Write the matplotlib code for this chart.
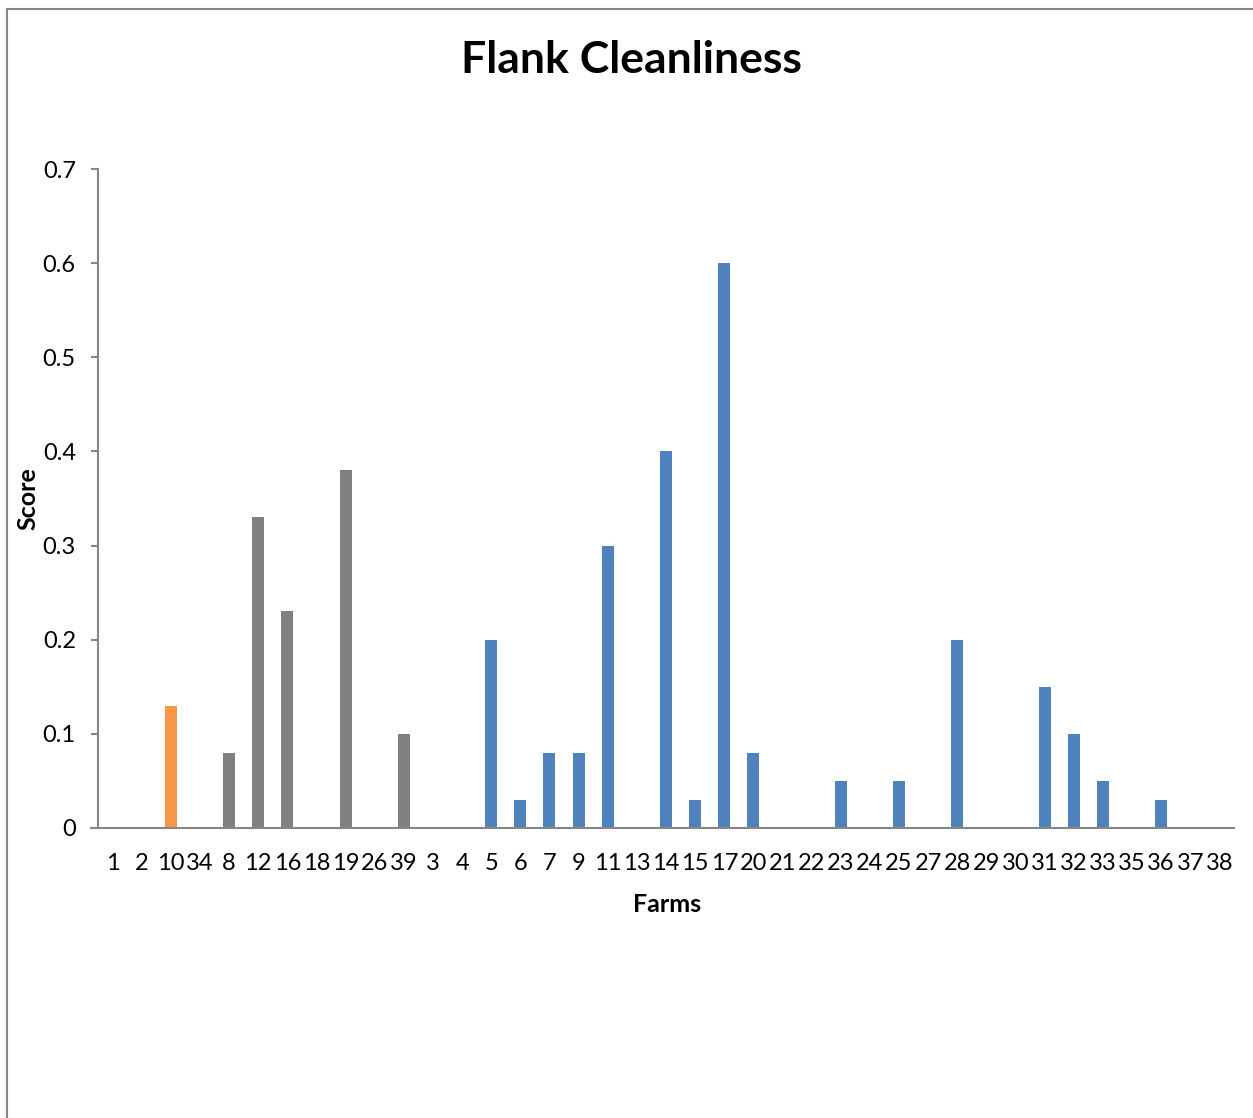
import matplotlib
matplotlib.use('Agg')
import matplotlib.pyplot as plt
from matplotlib.lines import Line2D

# farm labels in the order shown and their scores
farms = ['1', '2', '10', '34', '8', '12', '16', '18', '19', '26', '39',
         '3', '4', '5', '6', '7', '9', '11', '13', '14', '15', '17', '20',
         '21', '22', '23', '24', '25', '27', '28', '29', '30', '31', '32',
         '33', '35', '36', '37', '38']
scores = [0, 0, 0.13, 0, 0.08, 0.33, 0.23, 0, 0.38, 0, 0.10,
          0, 0, 0.20, 0.03, 0.08, 0.08, 0.30, 0, 0.40, 0.03, 0.60, 0.08,
          0, 0, 0.05, 0, 0.05, 0, 0.20, 0, 0, 0.15, 0.10,
          0.05, 0, 0.03, 0, 0]
groups = ['orange'] * 3 + ['gray'] * 8 + ['blue'] * 28

colours = {'orange': '#F79646', 'gray': '#808080', 'blue': '#4F81BD'}

plt.rcParams['font.family'] = ['Lato', 'DejaVu Sans']

fig = plt.figure(figsize=(12.53, 11.18), dpi=100)
ax = fig.add_axes([0.0782, 0.2594, 0.9066, 0.5894])

x = list(range(len(farms)))
ax.bar(x, scores, width=0.41, color=[colours[g] for g in groups])

ax.set_xlim(-0.5, len(farms) - 0.5)
ax.set_ylim(0, 0.7)
ax.set_yticks([0, 0.1, 0.2, 0.3, 0.4, 0.5, 0.6, 0.7])
ax.set_yticklabels(['0', '0.1', '0.2', '0.3', '0.4', '0.5', '0.6', '0.7'])
ax.set_xticks(x)
ax.set_xticklabels(farms)

for s in ['top', 'right']:
    ax.spines[s].set_visible(False)
for s in ['left', 'bottom']:
    ax.spines[s].set_color('#868686')
    ax.spines[s].set_linewidth(1.5)

ax.tick_params(axis='y', length=5, width=1.5, color='#868686', pad=11, labelsize=17)
ax.tick_params(axis='x', length=0, pad=18, labelsize=17)

# x axis line also runs under the zero tick
ax.plot([-0.5 - 0.25, -0.5], [0, 0], color='#868686', lw=1.5, clip_on=False)

fig.text(0.5036, 0.946, 'Flank Cleanliness', ha='center', va='center',
         fontsize=32, fontweight='bold')
fig.text(0.532, 1 - 904 / 1118, 'Farms', ha='center', va='center',
         fontsize=18, fontweight='bold')
fig.text(28 / 1253, 1 - 499 / 1118, 'Score', ha='center', va='center',
         fontsize=18, fontweight='bold', rotation=90)

# chart area border (top and left edges only in the crop)
fig.add_artist(Line2D([6.5 / 1253, 6.5 / 1253], [0, 1 - 8.5 / 1118],
                      color='#868686', lw=1.5, transform=fig.transFigure))
fig.add_artist(Line2D([6.5 / 1253, 1], [1 - 8.5 / 1118, 1 - 8.5 / 1118],
                      color='#868686', lw=1.5, transform=fig.transFigure))

fig.savefig('out.png', dpi=100)
